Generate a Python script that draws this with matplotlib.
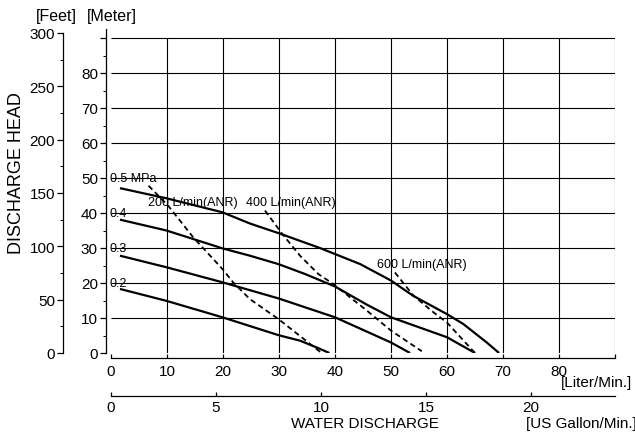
import numpy as np
import matplotlib
matplotlib.use("Agg")
import matplotlib.pyplot as plt

plt.rcParams['font.family'] = ['Liberation Sans', 'DejaVu Sans']

# pump curves: flow [L/min] vs head [m]
p05_L = [1.6, 9.9, 19.9, 24.8, 30, 37.3, 44.5, 50, 53.9, 60, 62.9, 67.1, 69.3]
p05_m = [47.1, 44.2, 40.2, 37.0, 34.2, 30.0, 25.4, 20.7, 16.4, 11.1, 8.3, 3.0, 0]
p04_L = [1.6, 9.9, 19.9, 24.8, 29.9, 34.6, 40, 45.7, 50, 60, 65]
p04_m = [38.1, 35.0, 29.9, 27.8, 25.4, 22.6, 19.0, 13.8, 10.2, 4.5, 0]
p03_L = [1.6, 9.9, 19.9, 29.9, 40, 50, 53.4]
p03_m = [27.8, 24.5, 20.2, 15.6, 10.2, 3.0, 0]
p02_L = [1.6, 9.9, 19.9, 29.9, 33.8, 36.7, 39.0]
p02_m = [18.3, 14.9, 10.2, 5.1, 3.5, 1.6, 0]

# air consumption lines
a200_L = [6.7, 10.2, 14.7, 19.9, 21.8, 24.8, 29.9, 37.6]
a200_m = [47.8, 42.1, 33.0, 24.0, 20.2, 15.4, 9.7, 0]
a400_L = [27.5, 30.5, 33.75, 37, 39.7, 45.7, 50, 55.5]
a400_m = [40.7, 34.2, 27.8, 22.6, 19.7, 12.1, 6.4, 0.5]
a600_L = [50.7, 54.0, 57.6, 60, 65]
a600_m = [23, 16.4, 11.6, 8.7, 0]

pressure_labels = ['0.5 MPa', '0.4', '0.3', '0.2']
pressure_label_m = [50, 40, 30, 20]
air_labels = ['200 L/min(ANR)', '400 L/min(ANR)', '600 L/min(ANR)']
air_label_L = [6.6, 24.1, 47.5]
air_label_m = [43.0, 43.0, 25.4]

meter_ticks = np.arange(0, 91, 10)
feet_ticks = np.arange(0, 301, 50)
liter_ticks = np.arange(0, 91, 10)
gallon_ticks = np.arange(0, 21, 5)

FT = 3.28084
GAL = 3.75

W, H = 635, 439
fig = plt.figure(figsize=(W / 100, H / 100), dpi=100)

def fx(px):
    return px / W

def fy(py):
    return 1 - py / H

ymax = 324 / 3.5
rect = [fx(111), fy(354), 504 / W, 324 / H]

# feet axis
ax_ft = fig.add_axes(rect)
ax_ft.patch.set_visible(False)
ax_ft.set_ylim(0, ymax * FT)
for s in ['top', 'right', 'bottom']:
    ax_ft.spines[s].set_visible(False)
ax_ft.spines['left'].set_position(('outward', 48 * 0.72))
ax_ft.spines['left'].set_bounds(0, 300)
ax_ft.spines['left'].set_linewidth(0.9)
ax_ft.set_xticks([])
ax_ft.set_yticks(feet_ticks)
ax_ft.set_yticks(np.arange(0, 301, 25), minor=True)
ax_ft.tick_params(axis='y', which='major', length=4.3, width=0.9, pad=1.5, labelsize=11)
ax_ft.tick_params(axis='y', which='minor', length=2, width=0.7)

# gallon axis
ax_g = fig.add_axes(rect)
ax_g.patch.set_visible(False)
ax_g.set_xlim(0, 90 / GAL)
for s in ['top', 'right', 'left']:
    ax_g.spines[s].set_visible(False)
ax_g.spines['bottom'].set_position(('outward', 43 * 0.72))
ax_g.spines['bottom'].set_linewidth(0.9)
ax_g.set_yticks([])
ax_g.set_xticks(gallon_ticks)
ax_g.tick_params(axis='x', direction='in', length=3, width=0.9, pad=3, labelsize=11)

# main axes
ax = fig.add_axes(rect)
ax.patch.set_visible(False)
ax.set_xlim(0, 90)
ax.set_ylim(0, ymax)
for s in ['top', 'right']:
    ax.spines[s].set_visible(False)
ax.spines['bottom'].set_position(('outward', 5 * 0.72))
ax.spines['bottom'].set_bounds(0, 90)
ax.spines['left'].set_position(('outward', 5 * 0.72))
for s in ['bottom', 'left']:
    ax.spines[s].set_linewidth(0.9)
ax.set_xticks(liter_ticks)
ax.set_xticklabels([str(v) if v < 90 else '' for v in liter_ticks])
ax.set_yticks(meter_ticks)
ax.set_yticklabels([str(v) if v < 90 else '' for v in meter_ticks])
ax.set_yticks(np.arange(0, 91, 5), minor=True)
ax.tick_params(axis='x', direction='in', length=3, width=0.9, pad=4, labelsize=11)
ax.tick_params(axis='y', which='major', length=4.3, width=0.9, pad=1.5, labelsize=11)
ax.tick_params(axis='y', which='minor', length=2, width=0.7)

# grid
ax.hlines(meter_ticks[1:], 0, 90, color='black', lw=0.8)
ax.vlines(liter_ticks[1:], 0, 90, color='black', lw=0.8)

for L, m in [(p05_L, p05_m), (p04_L, p04_m), (p03_L, p03_m), (p02_L, p02_m)]:
    ax.plot(L, m, color='black', lw=1.6, solid_capstyle='butt')
for L, m in [(a200_L, a200_m), (a400_L, a400_m), (a600_L, a600_m)]:
    ax.plot(L, m, color='black', lw=1.3, linestyle=(0, (3, 2)))

for t, m in zip(pressure_labels, pressure_label_m):
    ax.text(-0.2, m, t, fontsize=9, ha='left', va='center')
for t, L, m in zip(air_labels, air_label_L, air_label_m):
    ax.text(L, m, t, fontsize=9, ha='left', va='center')

fig.text(fx(56), fy(17), '[Feet]', fontsize=11.5, ha='center', va='center')
fig.text(fx(112), fy(17), '[Meter]', fontsize=11.5, ha='center', va='center')
fig.text(fx(17), fy(173), 'DISCHARGE HEAD', fontsize=13, rotation=90, ha='center', va='center')
fig.text(fx(596), fy(383), '[Liter/Min.]', fontsize=11, ha='center', va='center')
fig.text(fx(365), fy(424), 'WATER DISCHARGE', fontsize=11, ha='center', va='center')
fig.text(fx(581), fy(424), '[US Gallon/Min.]', fontsize=11, ha='center', va='center')

fig.savefig('out.png', dpi=100)
